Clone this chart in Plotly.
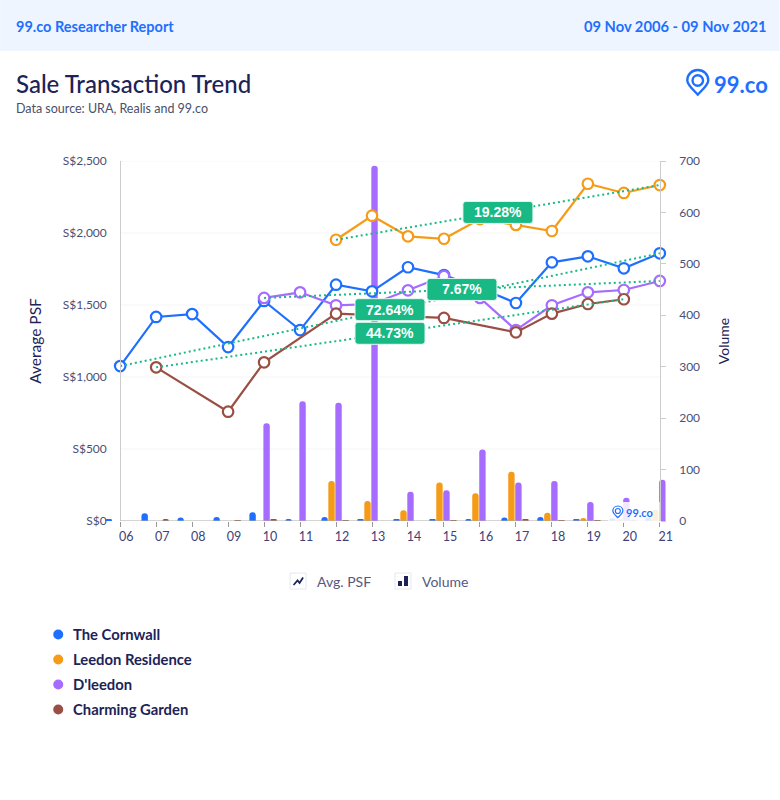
import plotly.graph_objects as go

years = list(range(2006, 2022))
year_labels = ["06", "07", "08", "09", "10", "11", "12", "13", "14", "15", "16", "17", "18", "19", "20", "21"]

names = ["The Cornwall", "Leedon Residence", "D'leedon", "Charming Garden"]
colors = ["#1F6FFF", "#F59B18", "#A66CFF", "#9A4F45"]

cornwall_psf = [1076, 1417, 1437, 1208, 1528, 1326, 1641, 1595, 1762, 1708, 1618, 1514, 1796, 1838, 1755, 1859]
leedon_psf = [None, None, None, None, None, None, 1953, 2120, 1977, 1960, 2097, 2056, 2014, 2342, 2278, 2333]
dleedon_psf = [None, None, None, None, 1549, 1588, 1498, 1507, 1602, 1701, 1549, 1326, 1498, 1588, 1604, 1667]
charming_psf = [None, 1067, None, 759, 1102, None, 1440, None, None, 1410, None, 1310, 1440, 1507, 1540, None]

cornwall_vol = [3, 15, 7, 8, 17, 4, 8, 3, 2, 2, 4, 7, 8, 3, 5, 7]
leedon_vol = [0, 0, 0, 0, 0, 0, 78, 39, 21, 75, 54, 96, 16, 6, 3, 22]
dleedon_vol = [0, 0, 0, 0, 190, 233, 230, 691, 57, 60, 139, 75, 78, 37, 45, 80]
charming_vol = [0, 4, 0, 1, 3, 0, 1, 0, 0, 1, 0, 2, 1, 1, 1, 0]

growth_labels = ["72.64%", "19.28%", "7.67%", "44.73%"]

psf_ticks = [0, 500, 1000, 1500, 2000, 2500]
psf_tick_labels = ["S$0", "S$500", "S$1,000", "S$1,500", "S$2,000", "S$2,500"]
vol_ticks = [0, 100, 200, 300, 400, 500, 600, 700]

NAVY = "#1D2357"
BLUE = "#1F6FFF"
GREEN = "#19B985"
FONT = "Lato"

W, H = 780, 800
YEAR_PX = 36
# x range is padded so the outermost bars still get drawn, y axes sit at 2006 and 2021
PAD = 0.45
L, R, T, B = 120 - PAD * YEAR_PX, 660 + PAD * YEAR_PX, 161, 521


def px(x):
    return (x - L) / (R - L)


def py(y):
    return (B - y) / (B - T)


def page_text(x, y, text, size, color, anchor="left", weight=400, family=FONT):
    return dict(
        xref="paper", yref="paper", x=px(x), y=py(y), text=text, showarrow=False,
        xanchor=anchor, yanchor="middle", borderpad=0,
        font=dict(size=size, color=color, family=family, weight=weight),
    )


def page_rect(x0, y0, x1, y1, **kw):
    return dict(type="rect", xref="paper", yref="paper", x0=px(x0), x1=px(x1), y0=py(y0), y1=py(y1), **kw)


def page_path(points, **kw):
    d = ""
    for cmd, pts in points:
        d += cmd + " ".join(f"{px(a):.5f},{py(b):.5f}" for a, b in pts) + " "
    return dict(type="path", xref="paper", yref="paper", path=d.strip(), **kw)


def pin_shapes(cx, top, s, width, layer="above"):
    # map pin logo, s is the pin width in pixels
    r = s / 2
    h = s * 1.17
    outer = [
        ("M", [(cx, top + h)]),
        ("C", [(cx - r * 0.5, top + h * 0.78), (cx - r, top + h * 0.6), (cx - r, top + r)]),
        ("C", [(cx - r, top + r * 0.4), (cx - r * 0.55, top), (cx, top)]),
        ("C", [(cx + r * 0.55, top), (cx + r, top + r * 0.4), (cx + r, top + r)]),
        ("C", [(cx + r, top + h * 0.6), (cx + r * 0.5, top + h * 0.78), (cx, top + h)]),
        ("Z", []),
    ]
    r2 = r * 0.5
    yc = top + r
    inner = dict(
        type="circle", xref="paper", yref="paper", x0=px(cx - r2), x1=px(cx + r2),
        y0=py(yc - r2), y1=py(yc + r2), line=dict(color=BLUE, width=width), layer=layer,
    )
    return [page_path(outer, line=dict(color=BLUE, width=width), layer=layer), inner]


def label_box(x, y):
    # rounded badge, sized in pixels around a data point
    w, h, r = 35, 11, 3
    path = (
        f"M{-w + r},{-h} L{w - r},{-h} Q{w},{-h} {w},{-h + r} L{w},{h - r} Q{w},{h} {w - r},{h} "
        f"L{-w + r},{h} Q{-w},{h} {-w},{h - r} L{-w},{-h + r} Q{-w},{-h} {-w + r},{-h} Z"
    )
    return dict(
        type="path", xref="x", yref="y2", xsizemode="pixel", ysizemode="pixel",
        xanchor=x, yanchor=y, path=path, fillcolor=GREEN, line=dict(color="#E6F7F1", width=1),
        layer="above",
    )


fig = go.Figure()

# bars sit on the main axis so the lines overlay draws on top of them
bar_width = 6.4 / YEAR_PX
bar_offsets = [-14.7 / YEAR_PX, -7.7 / YEAR_PX, -0.7 / YEAR_PX, 6.3 / YEAR_PX]
volumes = [cornwall_vol, leedon_vol, dleedon_vol, charming_vol]
for name, color, vol, off in zip(names, colors, volumes, bar_offsets):
    fig.add_trace(go.Bar(
        x=years, y=vol, name=name + " volume", marker=dict(color=color, line=dict(width=0)),
        width=bar_width, offset=off, showlegend=False, yaxis="y",
    ))

prices = [cornwall_psf, leedon_psf, dleedon_psf, charming_psf]
for name, color, psf in zip(names, colors, prices):
    fig.add_trace(go.Scatter(
        x=years, y=psf, name=name, mode="lines+markers", connectgaps=True, cliponaxis=False,
        line=dict(color=color, width=2.2),
        marker=dict(size=10.5, color="white", line=dict(color=color, width=2.2)),
        showlegend=False, yaxis="y2",
    ))

annotations = []
shapes = [
    page_rect(0, 0, W, 51, fillcolor="#EEF5FF", line=dict(width=0), layer="below"),
]
for tick in psf_ticks[1:]:
    shapes.append(dict(
        type="line", xref="x", yref="y2", x0=years[0], x1=years[-1], y0=tick, y1=tick,
        line=dict(color="#F5F5F7", width=1), layer="below",
    ))
# x axis baseline stops at the first and last year
shapes.append(dict(
    type="line", xref="x", yref="y", x0=years[0], x1=years[-1], y0=0, y1=0,
    line=dict(color="#AAAAAA", width=1), layer="above",
))

for psf, label in zip(prices, growth_labels):
    known = [(a, b) for a, b in zip(years, psf) if b is not None]
    first, last = known[0], known[-1]
    fig.add_trace(go.Scatter(
        x=[first[0], last[0]], y=[first[1], last[1]], mode="lines", cliponaxis=False,
        line=dict(color=GREEN, width=2, dash="2px,3px"), showlegend=False, yaxis="y2",
        hoverinfo="skip",
    ))
    mid_x, mid_y = (first[0] + last[0]) / 2, (first[1] + last[1]) / 2
    shapes.append(label_box(mid_x, mid_y))
    annotations.append(dict(
        xref="x", yref="y2", x=mid_x, y=mid_y, text=f"<b>{label}</b>", showarrow=False,
        font=dict(size=14, color="white", family="Liberation Sans"),
    ))

# faded patch behind the watermark
shapes.append(page_rect(608, 502, 660, 523, fillcolor="rgba(255,255,255,0.85)", line=dict(width=0), layer="above"))
shapes += pin_shapes(698, 70, 21, 2.4)
shapes += pin_shapes(618, 506, 10, 1.2)

annotations += [
    page_text(15, 26, "99.co Researcher Report", 14.5, BLUE, weight=700),
    page_text(768, 26, "09 Nov 2006 - 09 Nov 2021", 14.7, BLUE, anchor="right", weight=700),
    page_text(15, 83, "Sale Transaction Trend", 24, NAVY, weight=500),
    page_text(15, 108, "Data source: URA, Realis and 99.co", 12.5, "#4A4F6A"),
    page_text(713, 84, "99.co", 22, BLUE, weight=700),
    page_text(625, 512, "99.co", 11, BLUE, weight=700),
    page_text(316, 581, "Avg. PSF", 14, "#55597F"),
    page_text(421, 581, "Volume", 14, "#55597F"),
]

# control legend icons
for x0 in [290, 395]:
    shapes.append(page_rect(x0, 573, x0 + 16, 589, line=dict(color="#E6E8F1", width=1), fillcolor="white"))
shapes.append(page_path(
    [("M", [(293.5, 585)]), ("L", [(297.5, 580.5)]), ("L", [(299.5, 583)]), ("L", [(303, 577.5)])],
    line=dict(color=NAVY, width=1.8),
))
shapes.append(page_rect(398, 581, 402, 586, fillcolor=NAVY, line=dict(width=0)))
shapes.append(page_rect(404, 576, 408, 586, fillcolor=NAVY, line=dict(width=0)))

# project legend
for i, (name, color) in enumerate(zip(names, colors)):
    y = 634.5 + i * 25
    shapes.append(dict(
        type="circle", xref="paper", yref="paper", x0=px(53), x1=px(63), y0=py(y - 5), y1=py(y + 5),
        fillcolor=color, line=dict(width=0),
    ))
    annotations.append(page_text(72, y - 0.5, name, 14.8, NAVY, weight=700))

tick_font = dict(size=12, color="#4A4F77", family=FONT)
span = years[-1] - years[0] + 2 * PAD

fig.update_layout(
    width=W, height=H,
    margin=dict(l=L, r=W - R, t=T, b=H - B, pad=0, autoexpand=False),
    paper_bgcolor="white", plot_bgcolor="white",
    barmode="overlay", barcornerradius=3,
    font=dict(family=FONT, color=NAVY),
    xaxis=dict(
        range=[years[0] - PAD, years[-1] + PAD], tickvals=years, ticktext=year_labels,
        tickfont=dict(size=12.5, color="#3C4277", family=FONT),
        ticks="outside", ticklen=5, tickcolor="#999999", tickwidth=1, showgrid=False, zeroline=False,
        showline=False, ticklabelshift=6, ticklabelstandoff=-1,
    ),
    yaxis=dict(
        range=[0, 700], tickvals=vol_ticks, side="right", anchor="free", position=(span - PAD) / span,
        tickfont=tick_font, showgrid=False, zeroline=False,
        ticks="outside", ticklen=5, tickcolor="#CCCCCC", showline=True, linecolor="#CCCCCC", linewidth=1,
        ticklabelstandoff=11, title=dict(text="Volume", font=dict(size=14, color=NAVY, family=FONT), standoff=20),
    ),
    yaxis2=dict(
        range=[0, 2500], tickvals=psf_ticks, ticktext=psf_tick_labels, side="left", overlaying="y",
        anchor="free", position=PAD / span,
        tickfont=tick_font, showgrid=False, zeroline=False, ticks="",
        showline=True, linecolor="#CCCCCC", linewidth=1, ticklabelstandoff=11,
        title=dict(text="Average PSF", font=dict(size=15.5, color=NAVY, family=FONT), standoff=16),
    ),
    shapes=shapes,
    annotations=annotations,
)

fig.write_html("out.html", config=dict(displayModeBar=False), post_script="document.body.style.margin='0';")
